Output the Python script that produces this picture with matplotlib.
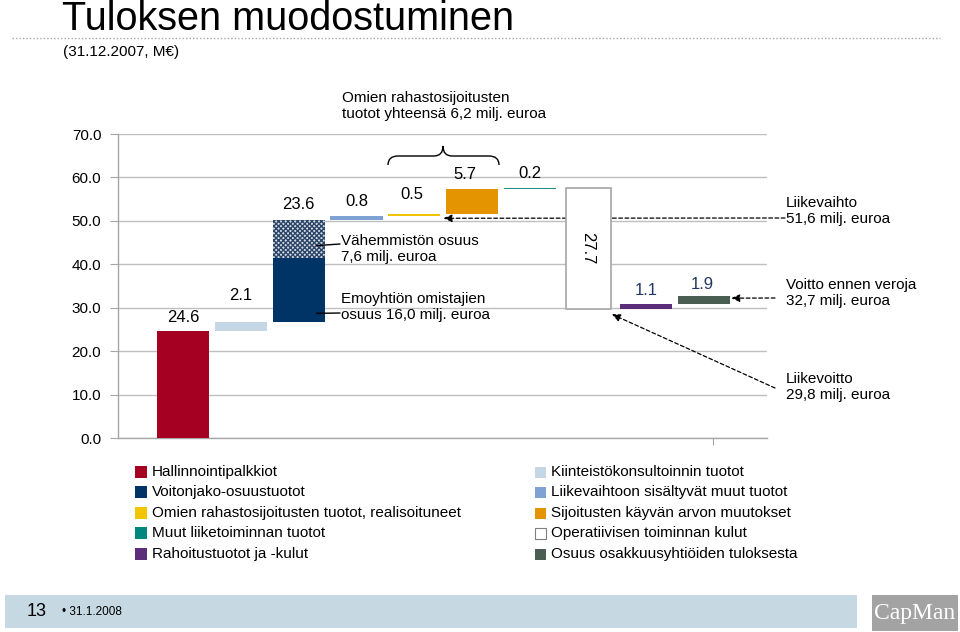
import numpy as np
import matplotlib.pyplot as plt
from matplotlib.patches import Rectangle, PathPatch
from matplotlib.path import Path
from matplotlib.ticker import FormatStrFormatter

plt.rcParams['font.family'] = ['Liberation Sans', 'DejaVu Sans']
plt.rcParams['hatch.linewidth'] = 1.0

# %% data
erat = ['Hallinnointipalkkiot', 'Kiinteistökonsultoinnin tuotot',
        'Voitonjako-osuustuotot', 'Liikevaihtoon sisältyvät muut tuotot',
        'Omien rahastosijoitusten tuotot, realisoituneet',
        'Sijoitusten käyvän arvon muutokset', 'Muut liiketoiminnan tuotot',
        'Operatiivisen toiminnan kulut', 'Rahoitustuotot ja -kulut',
        'Osuus osakkuusyhtiöiden tuloksesta']
arvot = [24.6, 2.1, 23.6, 0.8, 0.5, 5.7, 0.2, -27.7, 1.1, 1.9]
voitonjako_osat = [14.8, 8.8]      # emoyhtiön osuus / vähemmistön osuus (as drawn)
liikevaihto_taso = 50.6
voitto_taso = 32.2
liikevoitto_taso = 28.5
y_ticks = [0, 10, 20, 30, 40, 50, 60, 70]

varit = ['#A50021', '#C5D7E5', '#003366', '#7DA2D3', '#F2C500',
         '#E39400', '#1E8C8C', '#FFFFFF', '#5C2D7A', '#4B5E52']
legend_varit = varit[:6] + ['#00877F'] + varit[7:]

# %% figure
fig = plt.figure(figsize=(9.6, 6.32), dpi=100)
W, H = 960.0, 632.0


def px(x, y):
    return (x / W, 1 - y / H)


ax = fig.add_axes([118 / W, 1 - 438 / H, (767 - 118) / W, (438 - 134) / H])

x = np.arange(len(arvot))
arvot_np = np.array(arvot)
pohja = np.concatenate([[0], np.cumsum(arvot_np)[:-1]])
ala = np.where(arvot_np < 0, pohja + arvot_np, pohja)
korkeus = np.abs(arvot_np)

for i in range(len(arvot)):
    if i == 2:
        ax.bar(x[i], voitonjako_osat[0], bottom=ala[i], width=0.9,
               color=varit[i], zorder=3)
        ax.bar(x[i], voitonjako_osat[1], bottom=ala[i] + voitonjako_osat[0],
               width=0.9, facecolor='#d6dbe2', edgecolor='#2a4568',
               hatch='xxxxxxx', linewidth=0, zorder=3)
    elif i == 7:
        ax.bar(x[i], korkeus[i], bottom=ala[i], width=0.78, facecolor='white',
               edgecolor='#A6A6A6', linewidth=1.2, zorder=3)
    else:
        ax.bar(x[i], korkeus[i], bottom=ala[i], width=0.9, color=varit[i],
               zorder=3)

# value labels
label_dy = [14, 27, 15, 15, 19, 15, 15, 0, 13, 11]
label_dx = [0, 0, 0, 0, -3, -7, 0, 0, 0, -2]
label_col = ['black'] * 8 + ['#1F3864', '#1F3864']
for i in range(len(arvot)):
    if i == 7:
        ax.text(x[i], ala[i] + korkeus[i] / 2, '%.1f' % korkeus[i],
                rotation=-90, ha='center', va='center', fontsize=12, zorder=4)
        continue
    top = ala[i] + korkeus[i]
    ax.annotate('%.1f' % korkeus[i], (x[i], top), xytext=(label_dx[i], label_dy[i]),
                textcoords='offset pixels', ha='center', va='center',
                fontsize=12, color=label_col[i])

# =============================================================================
# axes styling
# =============================================================================
ax.set_xlim(-1.12, 10.09)
ax.set_ylim(0, 70)
ax.set_yticks(y_ticks)
ax.yaxis.set_major_formatter(FormatStrFormatter('%.1f'))
ax.set_xticks([9.15])
ax.set_xticklabels([''])
ax.tick_params(axis='x', length=5, color='#A6A6A6', direction='out')
ax.tick_params(axis='y', length=6, color='#A6A6A6', labelsize=11, pad=6)
ax.grid(axis='y', color='#BFBFBF', linewidth=1, zorder=0)
ax.set_axisbelow(True)
for s in ['top', 'right']:
    ax.spines[s].set_visible(False)
for s in ['left', 'bottom']:
    ax.spines[s].set_color('#A6A6A6')
    ax.spines[s].set_linewidth(1)

# =============================================================================
# annotations
# =============================================================================
txt = dict(fontsize=11, ha='left', va='center', linespacing=1.25)
fig.text(*px(342, 106), 'Omien rahastosijoitusten\ntuotot yhteensä 6,2 milj. euroa', **txt)
fig.text(*px(341, 249), 'Vähemmistön osuus\n7,6 milj. euroa', **txt)
fig.text(*px(341, 307), 'Emoyhtiön omistajien\nosuus 16,0 milj. euroa', **txt)
fig.text(*px(786, 211), 'Liikevaihto\n51,6 milj. euroa', **txt)
fig.text(*px(786, 293), 'Voitto ennen veroja\n32,7 milj. euroa', **txt)
fig.text(*px(786, 387), 'Liikevoitto\n29,8 milj. euroa', **txt)

# leader lines from the split bar
ax.annotate('', xy=(2.31, 44.3), xytext=px(340, 244), textcoords='figure fraction',
            arrowprops=dict(arrowstyle='-', color='black', lw=1, shrinkA=0, shrinkB=0))
ax.annotate('', xy=(2.31, 28.7), xytext=px(340, 313), textcoords='figure fraction',
            arrowprops=dict(arrowstyle='-', color='black', lw=1, shrinkA=0, shrinkB=0))

# dashed arrows
arrow = dict(arrowstyle='-|>,head_length=0.5,head_width=0.22', color='black',
             lw=0.9, linestyle=(0, (3, 2)), shrinkA=0, shrinkB=0)
ax.annotate('', xy=(5 - 0.5, liikevaihto_taso), xytext=px(785, 218),
            textcoords='figure fraction', arrowprops=arrow, zorder=1)
ax.annotate('', xy=(9 + 0.47, voitto_taso), xytext=px(775, 298),
            textcoords='figure fraction', arrowprops=arrow, zorder=4)
ax.annotate('', xy=(7 + 0.41, liikevoitto_taso), xytext=px(775, 388),
            textcoords='figure fraction', arrowprops=arrow, zorder=4)

# curly brace
bx = [388, 388, 398, 434, 443, 443, 443, 452, 489, 499, 499]
by = [165, 156, 156, 156, 156, 146, 156, 156, 156, 156, 165]
verts = [px(a, b) for a, b in zip(bx, by)]
codes = [Path.MOVETO, Path.CURVE3, Path.CURVE3, Path.LINETO, Path.CURVE3,
         Path.CURVE3, Path.CURVE3, Path.CURVE3, Path.LINETO, Path.CURVE3, Path.CURVE3]
fig.add_artist(PathPatch(Path(verts, codes), facecolor='none', edgecolor='black',
                         lw=1, transform=fig.transFigure))

# =============================================================================
# legend (two columns)
# =============================================================================
rivit = [472, 492, 513, 533, 554]
for k, i in enumerate([0, 2, 4, 6, 8]):
    fig.add_artist(Rectangle(px(135, rivit[k] + 6), 12 / W, 12 / H,
                             facecolor=legend_varit[i], edgecolor='none',
                             transform=fig.transFigure))
    fig.text(*px(152, rivit[k]), erat[i], fontsize=11, va='center')
for k, i in enumerate([1, 3, 5, 7, 9]):
    ec = '#808080' if i == 7 else 'none'
    fig.add_artist(Rectangle(px(534.5, rivit[k] + 5.5), 11 / W, 11 / H,
                             facecolor=legend_varit[i], edgecolor=ec, lw=0.8,
                             transform=fig.transFigure))
    fig.text(*px(551, rivit[k]), erat[i], fontsize=11, va='center')

# =============================================================================
# title, subtitle, footer
# =============================================================================
fig.text(*px(62, 29.5), 'Tuloksen muodostuminen', fontsize=28.5, va='baseline')
fig.text(*px(63, 52), '(31.12.2007, M€)', fontsize=11, va='center')
fig.add_artist(plt.Line2D([12 / W, 940 / W], [1 - 38 / H, 1 - 38 / H],
                          color='#A6A6A6', lw=1, linestyle=(0, (1, 1.5)),
                          transform=fig.transFigure))

fig.add_artist(Rectangle(px(5, 628), 852 / W, 33 / H, facecolor='#C6D9E3',
                         edgecolor='none', transform=fig.transFigure))
fig.add_artist(Rectangle(px(872, 631), 86 / W, 36 / H, facecolor='#A3A3A3',
                         edgecolor='none', transform=fig.transFigure))
fig.text(*px(27, 612), '13', fontsize=13, va='center')
fig.text(*px(62, 612), '• 31.1.2008', fontsize=8.5, va='center')
fig.text(*px(915, 613), 'CapMan', fontsize=17, va='center', ha='center',
         color='white', family=['Liberation Serif', 'DejaVu Serif'])

plt.savefig('out.png', dpi=100)
